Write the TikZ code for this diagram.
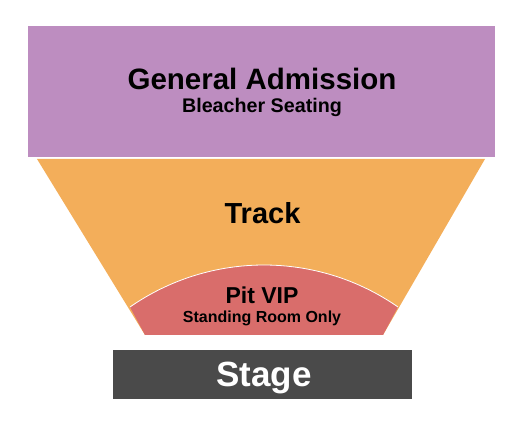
\documentclass[tikz,border=0pt]{standalone}
\usepackage{fontspec}
\setmainfont{Liberation Sans}
\usetikzlibrary{positioning}

\definecolor{gacol}{HTML}{BD8DC0}
\definecolor{trackcol}{HTML}{F3AE5A}
\definecolor{pitcol}{HTML}{D96D6B}
\definecolor{stagecol}{HTML}{4A4A4A}

\begin{document}
\begin{tikzpicture}[x=1pt,y=1pt]
\tikzstyle{lbl} = [inner sep=0pt, anchor=base, font=\bfseries]

\useasboundingbox (0,0) rectangle (525,425);

% sections
\fill[gacol] (28,267.5) rectangle (495,399);
\fill[trackcol] (37,266) -- (485,266) -- (383,90) -- (145,90) -- cycle;
\fill[pitcol] (130,118) arc[start angle=124.8, end angle=55.2, radius=234.8] -- (383,90) -- (145,90) -- cycle;
\draw[white, line width=0.8pt] (130,118) arc[start angle=124.8, end angle=55.2, radius=234.8];
\fill[stagecol] (113,26.3) rectangle (412,75);

% labels
\node[lbl, font=\bfseries\fontsize{29.5}{30}\selectfont] (ga) at (262,335) {General Admission};
\node[lbl, font=\bfseries\fontsize{19.7}{20}\selectfont] (bleacher) at (262,312) {Bleacher Seating};
\node[lbl, font=\bfseries\fontsize{29}{30}\selectfont] (track) at (262.5,201.7) {Track};
\node[lbl, font=\bfseries\fontsize{23}{24}\selectfont] (pit) at (262,121) {Pit VIP};
\node[lbl, font=\bfseries\fontsize{16}{17}\selectfont] (standing) at (262,102.3) {Standing Room Only};
\node[lbl, white, font=\bfseries\fontsize{35}{36}\selectfont] (stage) at (264,38) {Stage};

\end{tikzpicture}
\end{document}
